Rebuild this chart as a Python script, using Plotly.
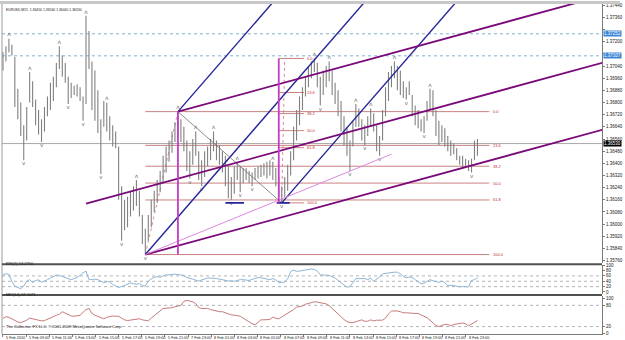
import plotly.graph_objects as go

# ---------------- data ----------------
highs = [1.3713, 1.3717, 1.3722, 1.3718, 1.3710, 1.3689, 1.3680, 1.3665, 1.3677, 1.3700,
         1.3694, 1.3682, 1.3675, 1.3669, 1.3677, 1.3684, 1.3693, 1.3697, 1.3706, 1.3717,
         1.3711, 1.3706, 1.3697, 1.3693, 1.3691, 1.3692, 1.3690, 1.3684, 1.3737, 1.3727,
         1.3707, 1.3701, 1.3688, 1.3669, 1.3681, 1.3680, 1.3671, 1.3665, 1.3661, 1.3651,
         1.3625, 1.3616, 1.3618, 1.3622, 1.3625, 1.3629, 1.3622, 1.3606, 1.3597, 1.3606,
         1.3616, 1.3622, 1.3629, 1.3635, 1.3645, 1.3651, 1.3655, 1.3661, 1.3667, 1.3674,
         1.3669, 1.3664, 1.3655, 1.3648, 1.3656, 1.3661, 1.3648, 1.3642, 1.3648, 1.3651,
         1.3656, 1.3661, 1.3655, 1.3652, 1.3648, 1.3645, 1.3638, 1.3631, 1.3638, 1.3641,
         1.3638, 1.3637, 1.3637, 1.3635, 1.3634, 1.3637, 1.3638, 1.3639, 1.3640, 1.3641,
         1.3642, 1.3641, 1.3637, 1.3631, 1.3625, 1.3631, 1.3639, 1.3648, 1.3664, 1.3675,
         1.3684, 1.3690, 1.3697, 1.3704, 1.3707, 1.3709, 1.3706, 1.3697, 1.3701, 1.3704,
         1.3707, 1.3701, 1.3693, 1.3688, 1.3681, 1.3671, 1.3664, 1.3655, 1.3668, 1.3679,
         1.3676, 1.3669, 1.3665, 1.3671, 1.3676, 1.3673, 1.3665, 1.3658, 1.3675, 1.3690,
         1.3700, 1.3704, 1.3707, 1.3704, 1.3701, 1.3694, 1.3690, 1.3694, 1.3685, 1.3678,
         1.3675, 1.3669, 1.3671, 1.3681, 1.3689, 1.3688, 1.3675, 1.3668, 1.3665, 1.3663,
         1.3658, 1.3655, 1.3653, 1.3650, 1.3645, 1.3645, 1.3643, 1.3642, 1.3643, 1.3655,
         1.3656]
lows = [1.3701, 1.3707, 1.3713, 1.3711, 1.3677, 1.3669, 1.3658, 1.3642, 1.3655, 1.3680,
        1.3677, 1.3665, 1.3659, 1.3654, 1.3661, 1.3671, 1.3675, 1.3681, 1.3690, 1.3702,
        1.3697, 1.3693, 1.3679, 1.3683, 1.3685, 1.3684, 1.3681, 1.3668, 1.3679, 1.3702,
        1.3675, 1.3668, 1.3660, 1.3633, 1.3664, 1.3661, 1.3655, 1.3651, 1.3650, 1.3616,
        1.3589, 1.3596, 1.3598, 1.3605, 1.3609, 1.3612, 1.3605, 1.3587, 1.3580, 1.3589,
        1.3598, 1.3608, 1.3614, 1.3621, 1.3627, 1.3634, 1.3641, 1.3647, 1.3654, 1.3658,
        1.3654, 1.3648, 1.3635, 1.3630, 1.3639, 1.3645, 1.3629, 1.3625, 1.3631, 1.3638,
        1.3642, 1.3648, 1.3642, 1.3639, 1.3634, 1.3625, 1.3617, 1.3616, 1.3620, 1.3629,
        1.3621, 1.3627, 1.3629, 1.3627, 1.3625, 1.3629, 1.3630, 1.3631, 1.3632, 1.3630,
        1.3632, 1.3629, 1.3625, 1.3618, 1.3614, 1.3618, 1.3622, 1.3632, 1.3642, 1.3655,
        1.3665, 1.3675, 1.3684, 1.3690, 1.3696, 1.3700, 1.3690, 1.3678, 1.3685, 1.3690,
        1.3694, 1.3685, 1.3679, 1.3671, 1.3661, 1.3652, 1.3645, 1.3635, 1.3651, 1.3664,
        1.3664, 1.3655, 1.3652, 1.3658, 1.3664, 1.3661, 1.3648, 1.3645, 1.3655, 1.3671,
        1.3681, 1.3690, 1.3696, 1.3688, 1.3685, 1.3683, 1.3682, 1.3685, 1.3671, 1.3665,
        1.3663, 1.3661, 1.3660, 1.3668, 1.3675, 1.3671, 1.3658, 1.3652, 1.3654, 1.3651,
        1.3648, 1.3645, 1.3646, 1.3642, 1.3639, 1.3637, 1.3637, 1.3635, 1.3634, 1.3642,
        1.3645]
rsi = [64, 68, 66, 40, 22, 18, 12, 22, 40, 46,
       35, 42, 46, 36, 40, 46, 52, 58, 63, 62,
       58, 54, 50, 46, 50, 54, 62, 72, 78, 46,
       46, 48, 46, 40, 35, 38, 38, 28, 22, 17,
       20, 25, 29, 34, 31, 29, 31, 24, 22, 40,
       49, 55, 57, 55, 60, 64, 64, 66, 67, 65,
       64, 62, 54, 52, 48, 44, 41, 45, 49, 52,
       52, 52, 50, 48, 46, 42, 41, 42, 40, 43,
       46, 46, 45, 43, 47, 52, 54, 53, 50, 48,
       46, 50, 45, 35, 35, 37, 50, 76, 82, 77,
       78, 80, 84, 86, 86, 84, 78, 64, 63, 62,
       62, 57, 52, 43, 34, 26, 18, 20, 35, 50,
       50, 51, 50, 46, 52, 40, 48, 56, 68, 70,
       70, 73, 74, 74, 68, 58, 53, 56, 54, 46,
       38, 31, 33, 40, 46, 42, 38, 36, 40, 35,
       23, 25, 24, 21, 19, 20, 20, 19, 43, 46,
       53]
mfi = [43, 48, 46, 42, 36, 33, 31, 34, 38, 44,
       42, 39, 37, 36, 37, 40, 43, 48, 52, 55,
       62, 58, 54, 50, 49, 50, 52, 60, 68, 71,
       57, 52, 49, 47, 42, 46, 49, 50, 49, 49,
       44, 39, 37, 38, 40, 41, 42, 39, 37, 36,
       44, 51, 57, 66, 71, 72, 72, 73, 76, 78,
       80, 91, 94, 92, 90, 85, 74, 71, 71, 71,
       68, 66, 63, 62, 62, 60, 56, 53, 53, 51,
       49, 44, 38, 32, 28, 25, 33, 39, 39, 40,
       40, 47, 43, 42, 47, 51, 56, 62, 68, 75,
       76, 78, 83, 86, 88, 90, 89, 88, 86, 84,
       79, 71, 64, 56, 48, 40, 34, 31, 31, 34,
       36, 39, 35, 35, 39, 36, 38, 39, 38, 44,
       56, 64, 65, 64, 62, 59, 59, 58, 56, 57,
       57, 53, 49, 45, 38, 31, 23, 20, 24, 26,
       26, 22, 26, 28, 30, 30, 28, 22, 27, 33,
       37]
last_price = 1.3653
up_fractal_bars = [2, 9, 19, 28, 35, 45, 59, 65, 71, 79, 91, 105, 110, 119, 124, 132, 144]
down_fractal_bars = [7, 13, 22, 27, 33, 40, 48, 63, 67, 77, 80, 84, 94, 107, 117,
                     122, 127, 136, 142, 158]
price_ticks = [1.3576, 1.3584, 1.3592, 1.3600, 1.3608, 1.3616, 1.3624, 1.3632, 1.3640,
               1.3648, 1.3656, 1.3664, 1.3672, 1.3680, 1.3688, 1.3696, 1.3704, 1.3712,
               1.3720, 1.3728, 1.3736, 1.3744]
time_labels = ["5 Feb 2010", "5 Feb 09:00", "5 Feb 11:00", "5 Feb 13:00", "5 Feb 15:00",
               "5 Feb 17:00", "5 Feb 19:00", "5 Feb 21:00", "7 Feb 23:00", "8 Feb 01:00",
               "8 Feb 03:00", "8 Feb 05:00", "8 Feb 07:00", "8 Feb 09:00", "8 Feb 11:00",
               "8 Feb 13:00", "8 Feb 15:00", "8 Feb 17:00", "8 Feb 19:00", "8 Feb 21:00",
               "8 Feb 23:00"]
bars_per_label = 7.8
rsi_ticks = [0, 20, 40, 60, 80, 100]
rsi_levels = [20, 40, 60]
mfi_ticks = [0, 20, 80, 100]
mfi_levels = [20, 80]

# chart objects (anchors in bar index / price)
pivot1 = (48, 1.3580)
pivot2 = (59, 1.3674)
pivot3 = (94, 1.3614)
channel_end = (202, 1.3662)          # lower channel line passes pivot1 and this point
channel_mid_start = 28
violet_end = (131, 1.3646)
fib_levels = [0.0, 23.6, 38.2, 50.0, 61.8, 100.0]
fib1_end = 164
fib2_low = (94, 1.3614)
fib2_high = (95, 1.3709)
fib2_span = (93, 101.5)
dotted_levels = [1.37252, 1.37107]
support_marks = [(75, 81.3), (92.3, 96.7)]
support_price = 1.3614

XR = [-0.33, 202]
YR = [1.35743, 1.37448]
X_FAR = 230

fig = go.Figure()

def add_line(xs, ys, color, width=1, dash="solid", yaxis="y"):
    fig.add_trace(go.Scatter(x=xs, y=ys, mode="lines", yaxis=yaxis, hoverinfo="skip",
                             line=dict(color=color, width=width, dash=dash)))

# horizontal dotted & current price lines
for lv in dotted_levels:
    add_line(XR, [lv, lv], "#7db4d4", 1, "dot")
add_line(XR, [last_price, last_price], "#a8a8a8", 1)

# fib 1
hi1, lo1 = pivot2[1], pivot1[1]
for lv in fib_levels:
    p = hi1 - lv / 100 * (hi1 - lo1)
    add_line([pivot1[0], fib1_end], [p, p], "#c98080", 1)
add_line([pivot1[0], pivot2[0]], [pivot1[1], pivot2[1]], "#d89090", 1, "dot")
# fib 2
hi2, lo2 = fib2_high[1], fib2_low[1]
for lv in fib_levels:
    p = hi2 - lv / 100 * (hi2 - lo2)
    add_line(list(fib2_span), [p, p], "#c98080", 1)
add_line([fib2_low[0], fib2_high[0]], [fib2_low[1], fib2_high[1]], "#d89090", 1, "dot")

# price bars
bx, by = [], []
for i, (h, l) in enumerate(zip(highs, lows)):
    bx += [i, i, None]
    by += [h, l, None]
fig.add_trace(go.Scatter(x=bx, y=by, mode="lines", hoverinfo="skip",
                         line=dict(color="#808080", width=1.1)))

# fractal markers
off = 0.00025
fig.add_trace(go.Scatter(x=up_fractal_bars, y=[highs[i] + off for i in up_fractal_bars],
                         mode="text", text=["ʌ"] * len(up_fractal_bars),
                         textfont=dict(size=6, color="#707070", family="DejaVu Sans"),
                         hoverinfo="skip"))
fig.add_trace(go.Scatter(x=down_fractal_bars, y=[lows[i] - off for i in down_fractal_bars],
                         mode="text", text=["v"] * len(down_fractal_bars),
                         textfont=dict(size=5.5, color="#707070", family="DejaVu Sans"),
                         hoverinfo="skip"))

# pitchfork
mx = (pivot2[0] + pivot3[0]) / 2
my = (pivot2[1] + pivot3[1]) / 2
pf = (my - pivot1[1]) / (mx - pivot1[0])
navy = "#25259a"
for (x0, y0) in [pivot1, pivot2, pivot3]:
    add_line([x0, X_FAR], [y0, y0 + pf * (X_FAR - x0)], navy, 1.4)
add_line([pivot2[0], pivot3[0]], [pivot2[1], pivot3[1]], "#707070", 0.8)
for (a, b) in support_marks:
    add_line([a, b], [support_price, support_price], navy, 1.6)

# channel (purple)
cs = (channel_end[1] - pivot1[1]) / (channel_end[0] - pivot1[0])
purple = "#7a0a7a"
add_line([pivot1[0], X_FAR], [pivot1[1], pivot1[1] + cs * (X_FAR - pivot1[0])], purple, 1.8)
add_line([pivot2[0], X_FAR], [pivot2[1], pivot2[1] + cs * (X_FAR - pivot2[0])], purple, 1.8)
def mid_at(x):
    lo = pivot1[1] + cs * (x - pivot1[0])
    up = pivot2[1] + cs * (x - pivot2[0])
    return (lo + up) / 2
add_line([channel_mid_start, X_FAR], [mid_at(channel_mid_start), mid_at(X_FAR)], purple, 1.8)
add_line([pivot1[0], violet_end[0]], [pivot1[1], violet_end[1]], "#dd88e0", 1)

# vertical magenta lines
add_line([pivot2[0], pivot2[0]], [pivot1[1], pivot2[1]], "#c43cc4", 1.8)
add_line([fib2_span[0], fib2_span[0]], [fib2_low[1], fib2_high[1]], "#c43cc4", 1.8)

# RSI
for lv in rsi_levels:
    add_line(XR, [lv, lv], "#a0a0a0", 0.8, "dot", "y2")
add_line(list(range(len(rsi))), rsi, "#8db5d6", 1, "solid", "y2")
# MFI
for lv in mfi_levels:
    add_line(XR, [lv, lv], "#a0a0a0", 0.8, "dot", "y3")
add_line(list(range(len(mfi))), mfi, "#c97a7a", 1, "solid", "y3")

# ---------------- layout ----------------
H_PLOT = 331.0
def py(px):  # pixel row -> paper y (plot area spans rows 3..334)
    return (334 - px) / H_PLOT

tick_font = dict(size=4.5, color="#202020", family="Liberation Sans")
axis_common = dict(showgrid=False, zeroline=False, showline=True, linecolor="#7a7a7a",
                   linewidth=1, side="right", ticks="outside", ticklen=2,
                   tickcolor="#7a7a7a", tickfont=tick_font, anchor="x")

label_pos = [k * bars_per_label for k in range(len(time_labels))]

# price tick labels hidden where a highlighted level label sits on top of them
main_px = 260.0 / (YR[1] - YR[0])
price_text = []
for v in price_ticks:
    covered = any(abs(v - lv) * main_px < 4.5 for lv in dotted_levels + [last_price])
    price_text.append("" if covered else f"{v:.5f}")

fig.update_layout(
    width=625, height=340, showlegend=False,
    margin=dict(l=2, r=16, t=3, b=6, pad=0),
    paper_bgcolor="white", plot_bgcolor="white",
    xaxis=dict(range=XR, domain=[0, 1], anchor="y3", showgrid=False, zeroline=False,
               showline=True, linecolor="#7a7a7a", ticks="outside", ticklen=2,
               tickcolor="#7a7a7a", tickvals=label_pos, showticklabels=False),
    yaxis=dict(range=YR, domain=[py(263), 1], tickvals=price_ticks,
               ticktext=price_text, **axis_common),
    yaxis2=dict(range=[-8, 100], domain=[py(294), py(265)], tickvals=rsi_ticks,
                **axis_common),
    yaxis3=dict(range=[-1, 106], domain=[0, py(296)], tickvals=mfi_ticks, **axis_common),
)

small = dict(size=4, color="#202020", family="Liberation Sans")
ann = []
for t, p in zip(time_labels, label_pos):
    ann.append(dict(x=p, xref="x", y=0, yref="paper", yanchor="top", xanchor="left",
                    yshift=0, xshift=1, text=t, showarrow=False,
                    font=dict(size=3.8, color="#202020", family="Liberation Sans")))
ann.append(dict(x=0.003, xref="paper", y=py(5), yref="paper", xanchor="left",
                text="EURUSD,M15  1.36450 1.36560 1.36440 1.36530", showarrow=False,
                font=dict(size=3.4, color="#202020", family="Liberation Sans")))
ann.append(dict(x=0.003, xref="paper", y=py(268), yref="paper", xanchor="left",
                text="RSI(7) 53.2750", showarrow=False, font=small))
ann.append(dict(x=0.003, xref="paper", y=py(299), yref="paper", xanchor="left",
                text="MFI(14) 37.1071", showarrow=False, font=small))
ann.append(dict(x=0.003, xref="paper", y=py(330.5), yref="paper", xanchor="left",
                text="The Collective FX LLC. © 2001-2009 MetaQuotes Software Corp.",
                showarrow=False, font=small))
fib_font = dict(size=4, color="#c03030", family="Liberation Sans")
for lv in fib_levels:
    p = hi1 - lv / 100 * (hi1 - lo1)
    ann.append(dict(x=fib1_end + 0.5, y=p, xref="x", yref="y", xanchor="left",
                    text=f"{lv:.1f}", showarrow=False, font=fib_font))
    p2 = hi2 - lv / 100 * (hi2 - lo2)
    ann.append(dict(x=fib2_span[1] + 0.3, y=p2, xref="x", yref="y", xanchor="left",
                    text=f"{lv:.1f}", showarrow=False, font=fib_font))
for lv in dotted_levels:
    ann.append(dict(x=1, xref="paper", y=lv, yref="y", xanchor="left", xshift=1,
                    text=f"{lv:.5f}", showarrow=False, bgcolor="#3d86d6", borderpad=0,
                    font=dict(size=4.5, color="white", family="Liberation Sans")))
ann.append(dict(x=1, xref="paper", y=last_price, yref="y", xanchor="left", xshift=1,
                text=f"{last_price:.5f}", showarrow=False, bgcolor="#000000", borderpad=0,
                font=dict(size=4.5, color="white", family="Liberation Sans")))
fig.update_layout(annotations=ann)

shapes = [
    dict(type="rect", xref="paper", yref="paper", x0=-0.01, x1=1.03, y0=1, y1=1 + 3 / H_PLOT,
         fillcolor="#c8c8c8", line=dict(width=0), layer="above"),
    dict(type="line", xref="paper", yref="paper", x0=0, x1=0, y0=0, y1=1,
         line=dict(color="#9a9a9a", width=1)),
    dict(type="line", xref="paper", yref="paper", x0=0, x1=1, y0=py(264), y1=py(264),
         line=dict(color="#505050", width=2)),
    dict(type="line", xref="paper", yref="paper", x0=0, x1=1, y0=py(295), y1=py(295),
         line=dict(color="#505050", width=2)),
]
fig.update_layout(shapes=shapes)

fig.write_html("out.html")
